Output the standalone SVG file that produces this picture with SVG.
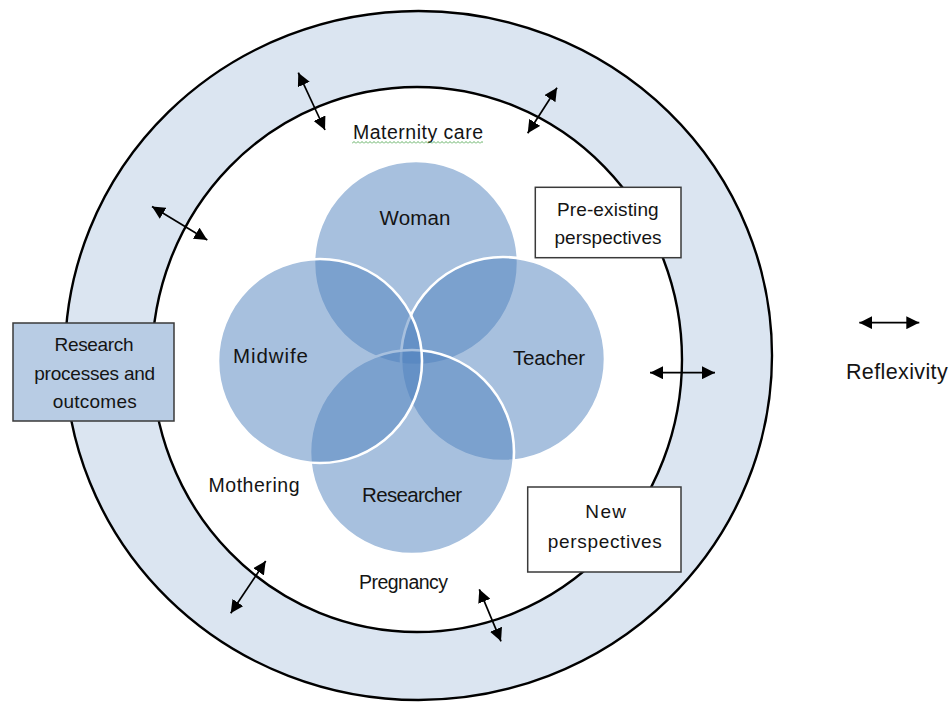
<svg xmlns="http://www.w3.org/2000/svg" width="952" height="702" viewBox="0 0 952 702">
<style>
  .ring { stroke: #000; stroke-width: 2.4; }
  .venn { fill: #4F81BD; fill-opacity: 0.5; stroke: #fff; stroke-width: 2.6; }
  .box { stroke: #3a3a3a; stroke-width: 1.5; }
  text { font-family: "Liberation Sans", Arial, sans-serif; fill: #141414; text-anchor: middle; }
  .big { font-size: 20.5px; }
  .lab { font-size: 19.5px; }
  .bx { font-size: 19px; }
  .arr { stroke: #000; stroke-width: 1.7; fill: none; marker-start: url(#ah); marker-end: url(#ah); }
</style>
<defs>
  <marker id="ah" viewBox="0 0 13 13" refX="13" refY="6.5" markerWidth="13" markerHeight="13" markerUnits="userSpaceOnUse" orient="auto-start-reverse">
    <path d="M0,0 L13,6.5 L0,13 z" fill="#000"/>
  </marker>
  <pattern id="squig" x="0" y="0" width="4" height="3" patternUnits="userSpaceOnUse">
    <polyline points="0,2.5 2,0.5 4,2.5" fill="none" stroke="#3c9a3c" stroke-width="0.8"/>
  </pattern>
</defs>
<rect width="952" height="702" fill="#fff"/>

<g id="rings">
  <ellipse class="ring" cx="418.5" cy="355.5" rx="353.5" ry="344.5" fill="#DBE5F1"/>
  <ellipse class="ring" cx="417" cy="359.5" rx="265" ry="272.5" fill="#fff"/>
</g>

<g id="venn">
  <g id="woman"><circle class="venn" cx="416" cy="263" r="102"/></g>
  <g id="teacher"><circle class="venn" cx="503" cy="359" r="102"/></g>
  <g id="researcher"><circle class="venn" cx="412" cy="452" r="102"/></g>
  <g id="midwife"><circle class="venn" cx="320" cy="361" r="102"/></g>
  <text class="big" x="415" y="225" textLength="71">Woman</text>
  <text class="big" x="270.5" y="363" textLength="75">Midwife</text>
  <text class="big" x="549" y="365" textLength="72">Teacher</text>
  <text class="big" x="412" y="501.5" textLength="100">Researcher</text>
</g>

<g id="context-labels">
  <g id="maternity-care">
    <text class="lab" x="418" y="138.5" textLength="130">Maternity care</text>
    <rect x="352" y="141" width="131" height="3" fill="url(#squig)"/>
  </g>
  <g id="mothering"><text class="lab" x="254" y="492" textLength="91">Mothering</text></g>
  <g id="pregnancy"><text class="lab" x="403.5" y="589" textLength="89">Pregnancy</text></g>
</g>

<g id="connectors">
  <line class="arr" x1="298.3" y1="72.7" x2="325" y2="130"/>
  <line class="arr" x1="557" y1="87.7" x2="527.7" y2="133.3"/>
  <line class="arr" x1="152" y1="206.5" x2="207.3" y2="240"/>
  <line class="arr" x1="650" y1="372.7" x2="715" y2="372.7"/>
  <line class="arr" x1="265.7" y1="561" x2="230.7" y2="613.3"/>
  <line class="arr" x1="479.3" y1="589.3" x2="501" y2="641.3"/>
  <line class="arr" x1="859.3" y1="322.7" x2="919.3" y2="322.7"/>
</g>

<g id="research-box">
  <rect class="box" x="13" y="323" width="161" height="98" fill="#B8CCE4"/>
  <text class="bx" x="94" y="351" textLength="79">Research</text>
  <text class="bx" x="94.7" y="380" textLength="121">processes and</text>
  <text class="bx" x="94.7" y="408.3" textLength="84">outcomes</text>
</g>

<g id="pre-existing-box">
  <rect class="box" x="535.3" y="187.3" width="145.7" height="70.4" fill="#fff"/>
  <text class="bx" x="607.8" y="216" textLength="101.7">Pre-existing</text>
  <text class="bx" x="608" y="243.5" textLength="107">perspectives</text>
</g>

<g id="new-box">
  <rect class="box" x="527.7" y="487" width="153.3" height="85" fill="#fff"/>
  <text class="bx" x="605.7" y="517.7" textLength="40.7" font-size="20">New</text>
  <text class="bx" x="604.8" y="548.3" textLength="114" font-size="20">perspectives</text>
</g>

<g id="legend">
  <text x="896.8" y="379" font-size="21.5" textLength="101.7">Reflexivity</text>
</g>
</svg>
